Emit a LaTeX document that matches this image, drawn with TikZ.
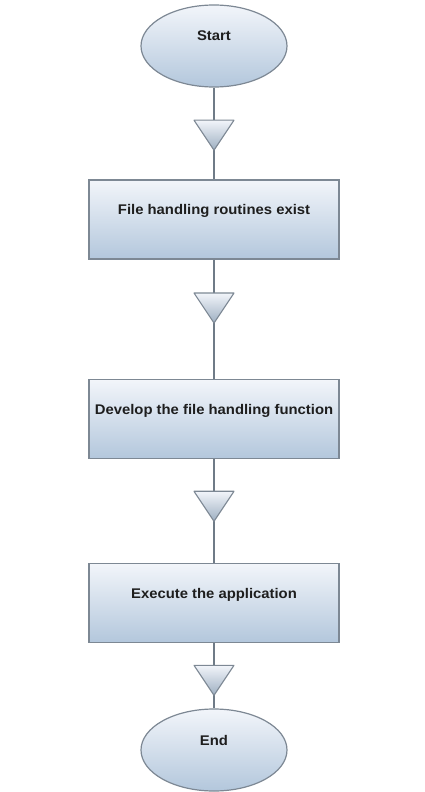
\documentclass[tikz,border=0pt]{standalone}
\usepackage{fontspec}
\setmainfont{Liberation Sans}[FakeStretch=1.06]
\usetikzlibrary{shapes.geometric}
\definecolor{boxtop}{HTML}{F2F5FA}
\definecolor{boxbot}{HTML}{B3C7DC}
\definecolor{edgecol}{HTML}{7D8894}
\definecolor{conncol}{HTML}{6F7B87}
\definecolor{txtcol}{HTML}{1E1E1E}
\begin{document}
\begin{tikzpicture}[x=1pt,y=-1pt,
  base/.style={draw=edgecol, line width=1.2pt, top color=boxtop, bottom color=boxbot,
    font=\bfseries\fontsize{14}{17}\selectfont, text=txtcol, inner sep=0pt,
    text height=11pt, text depth=21pt},
  term/.style={base, ellipse, minimum width=146pt, minimum height=82pt},
  proc/.style={base, rectangle, minimum width=250pt, minimum height=79pt},
  link/.style={draw=conncol, line width=2.2pt},
  tri/.style={draw=edgecol, line width=1.1pt, top color=boxtop, bottom color=boxbot!88!black, line join=round}]
\useasboundingbox (0,0) rectangle (425,792);
\node[term] (start) at (214,46) {Start};
\node[proc] (p1) at (214,219.5) {File handling routines exist};
\node[proc] (p2) at (214,419) {Develop the file handling function};
\node[proc] (p3) at (214,603) {Execute the application};
\node[term] (end) at (214,750) {End};
\draw[link] (start.south) -- (p1.north) coordinate[pos=0.355] (a1);
\draw[link] (p1.south) -- (p2.north) coordinate[pos=0.28] (a2);
\draw[link] (p2.south) -- (p3.north) coordinate[pos=0.31] (a3);
\draw[link] (p3.south) -- (end.north) coordinate[pos=0.34] (a4);
\foreach \a in {a1,a2,a3,a4}
  \draw[tri] (\a) ++(-20,0) -- ++(40,0) -- ++(-20,30) -- cycle;
\end{tikzpicture}
\end{document}
